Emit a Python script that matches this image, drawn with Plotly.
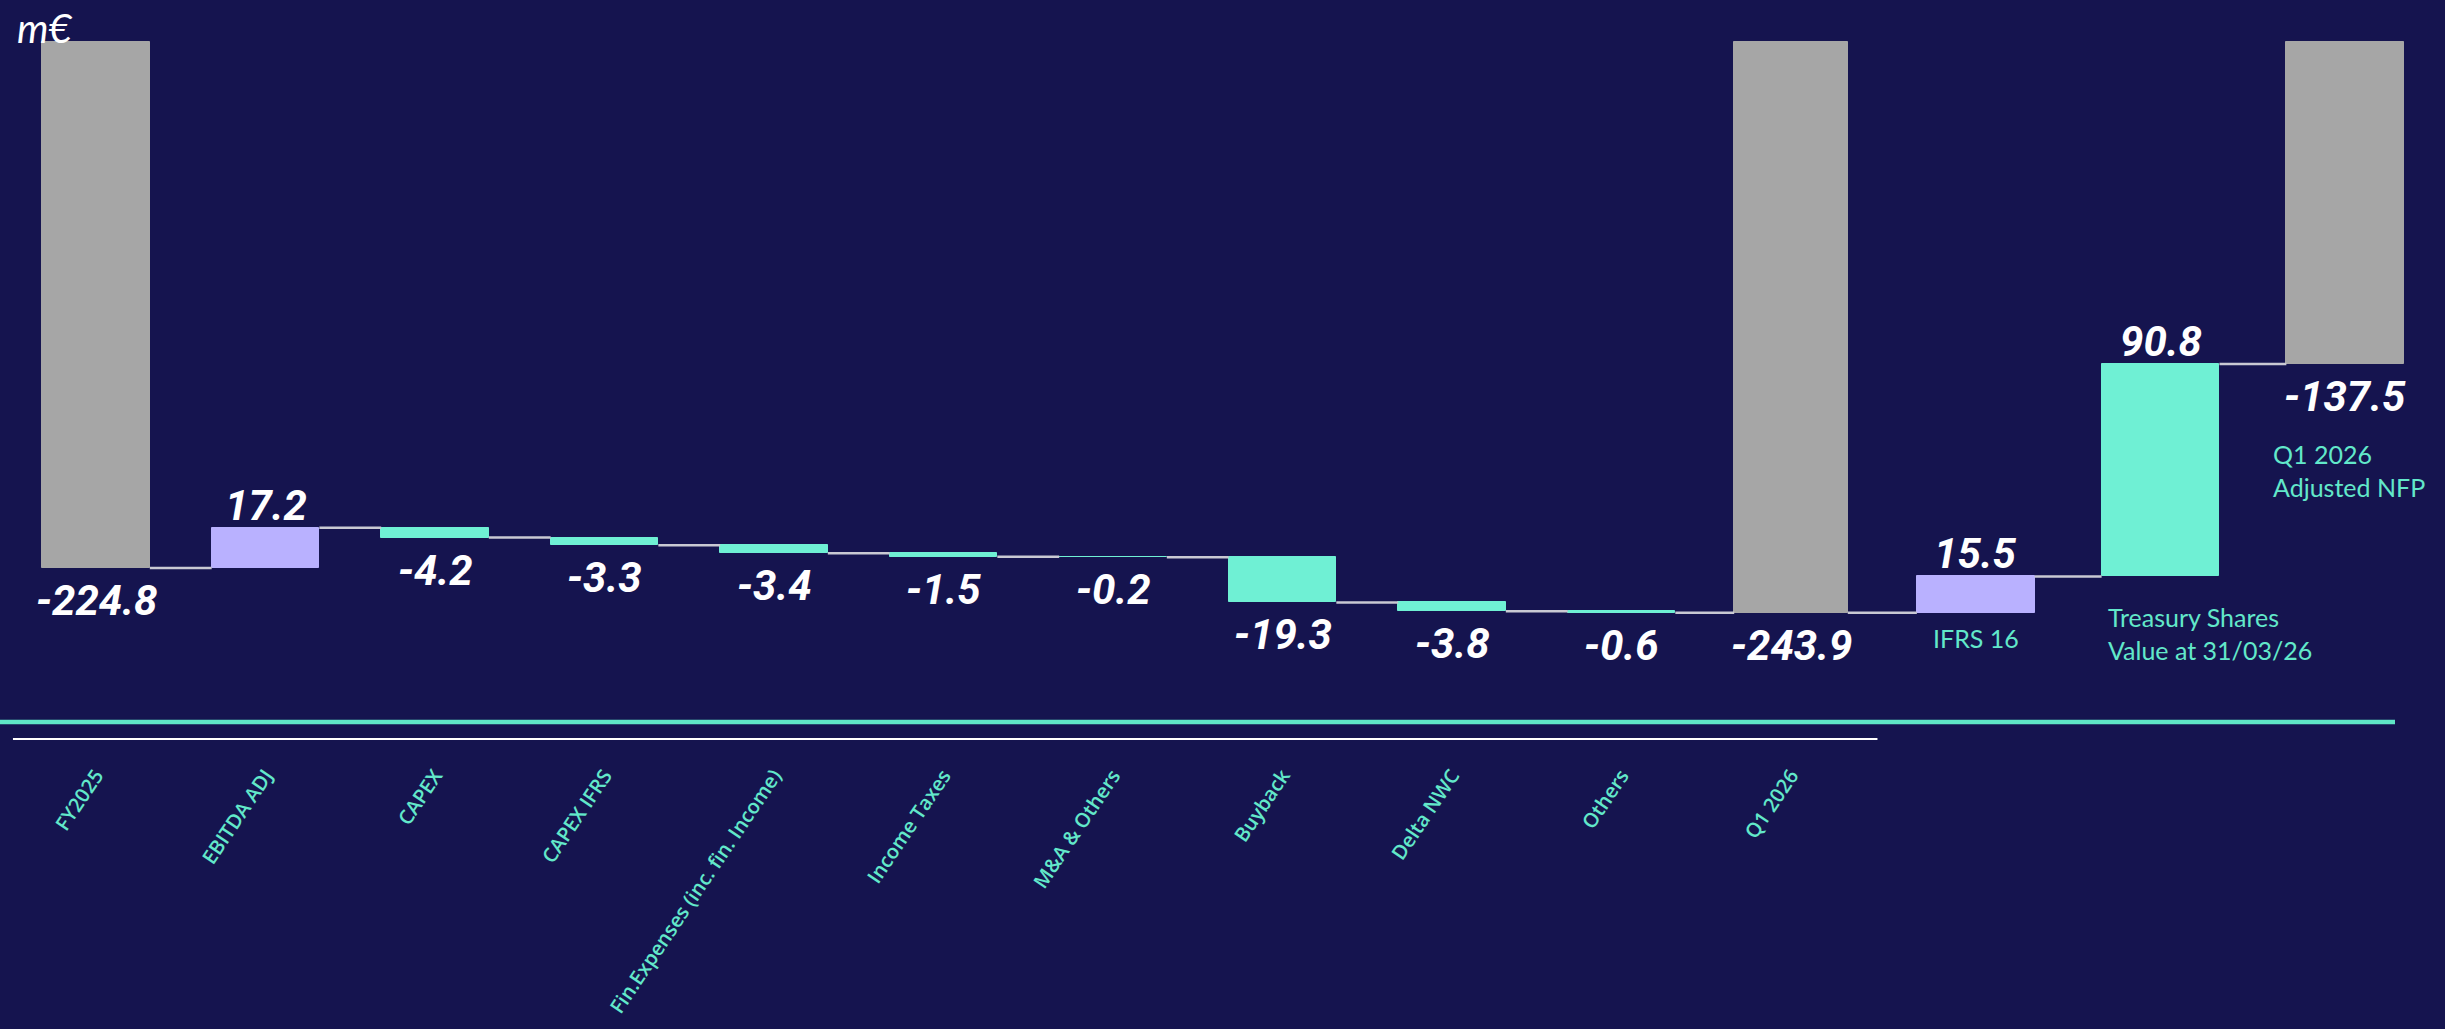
import plotly.graph_objects as go

# ---------------- data ----------------
categories = ["FY2025", "EBITDA ADJ", "CAPEX", "CAPEX IFRS",
              "Fin.Expenses (inc. fin. Income)", "Income Taxes", "M&A & Others",
              "Buyback", "Delta NWC", "Others", "Q1 2026",
              "IFRS 16", "Treasury Shares", "Q1 2026 Adjusted NFP"]
values = [-224.8, 17.2, -4.2, -3.3, -3.4, -1.5, -0.2, -19.3, -3.8, -0.6,
          -243.9, 15.5, 90.8, -137.5]
kinds = ["total", "delta", "delta", "delta", "delta", "delta", "delta",
         "delta", "delta", "delta", "total", "delta", "delta", "total"]
value_labels = ["-224.8", "17.2", "-4.2", "-3.3", "-3.4", "-1.5", "-0.2",
                "-19.3", "-3.8", "-0.6", "-243.9", "15.5", "90.8", "-137.5"]
n_axis_labels = 11  # only the first 11 categories carry an axis label

# ---------------- styles ----------------
BG = "#15144F"
GREY = "#A6A6A6"
LAV = "#B9B1FF"
TEAL = "#6FF0D4"
TXT_TEAL = "#62E8CA"
bar_colors = [GREY, LAV, TEAL, TEAL, TEAL, TEAL, TEAL, TEAL, TEAL, TEAL,
              GREY, LAV, TEAL, GREY]

W, H = 2445, 1029
PX_PER_UNIT = 2.34          # vertical scale (px per m€)
ZERO_PX = 568               # pixel row of the FY2025 closing level
PLOT_BOTTOM_PX = 739
STEP_PX = 169.5             # category spacing
FIRST_CENTER_PX = 96
OVERLAY_STEP = 1.09         # spacing of the three right-hand bars
BASE_W, OVER_W = 0.635, 0.695

n = len(categories)
pos = [float(i) for i in range(11)] + [10 + OVERLAY_STEP * j for j in range(1, n - 10)]
widths = [BASE_W] * 10 + [0.67] + [OVER_W] * (n - 11)

# ---------------- waterfall geometry via bases ----------------
bases, heights, lows, highs, end_levels = [], [], [], [], []
level = 0.0
for v, k in zip(values, kinds):
    if k == "total":
        b, h = level, -v
    else:
        b, h = level, v
        level += v
    bases.append(b)
    heights.append(h)
    lows.append(min(b, b + h))
    highs.append(max(b, b + h))
    end_levels.append(level)

fig = go.Figure()
fig.add_trace(go.Bar(
    x=pos, y=heights, base=bases, width=widths,
    marker=dict(color=bar_colors, line=dict(color=bar_colors, width=1)),
    hoverinfo="skip", showlegend=False,
))

# connectors
cx, cy = [], []
for i in range(n - 1):
    cx += [pos[i] + widths[i] / 2, pos[i + 1] - widths[i + 1] / 2, None]
    cy += [end_levels[i], end_levels[i], None]
fig.add_trace(go.Scatter(x=cx, y=cy, mode="lines",
                         line=dict(color="#C9C9D3", width=2.5),
                         hoverinfo="skip", showlegend=False))

# value labels
num_font = dict(family="Roboto, Liberation Sans Narrow, sans-serif",
                size=42, color="white", weight="bold", style="italic")
for i in range(n):
    if kinds[i] == "delta" and values[i] > 0:
        fig.add_annotation(x=pos[i], y=highs[i], text=value_labels[i], showarrow=False,
                           yanchor="bottom", xanchor="center", yshift=-4, font=num_font)
    else:
        fig.add_annotation(x=pos[i], y=lows[i], text=value_labels[i], showarrow=False,
                           yanchor="top", xanchor="center", yshift=-6, font=num_font)

# side notes
note_font = dict(family="Lato, Open Sans, sans-serif", size=25, color=TXT_TEAL)
fig.add_annotation(x=pos[11], y=-30, text="IFRS 16", showarrow=False,
                   xanchor="center", yanchor="middle", font=note_font)
fig.add_annotation(x=pos[12] - 0.32, y=-28, text="Treasury Shares<br>Value at 31/03/26",
                   showarrow=False, xanchor="left", yanchor="middle", align="left", font=note_font)
fig.add_annotation(x=pos[13] - 0.44, y=41.5, text="Q1 2026<br>Adjusted NFP",
                   showarrow=False, xanchor="left", yanchor="middle", align="left", font=note_font)

# unit
fig.add_annotation(xref="paper", yref="paper", x=15 / W, y=1 - 2 / PLOT_BOTTOM_PX,
                   text="m€", showarrow=False, xanchor="left", yanchor="top",
                   font=dict(family="Lato, Open Sans, sans-serif", size=40, color="white", style="italic"))

# decorative lines
fig.add_shape(type="line", xref="paper", yref="paper", x0=0, x1=2395 / W,
              y0=(PLOT_BOTTOM_PX - 722) / PLOT_BOTTOM_PX, y1=(PLOT_BOTTOM_PX - 722) / PLOT_BOTTOM_PX,
              line=dict(color="#5FE6C6", width=4.5))
fig.add_shape(type="line", xref="x", yref="paper", x0=pos[0] - 0.49, x1=pos[10] + 0.51,
              y0=0, y1=0, line=dict(color="white", width=2))

xmin = -FIRST_CENTER_PX / STEP_PX
xmax = (W - FIRST_CENTER_PX) / STEP_PX
ymax = ZERO_PX / PX_PER_UNIT
ymin = -(PLOT_BOTTOM_PX - ZERO_PX) / PX_PER_UNIT

fig.update_layout(
    width=W, height=H,
    margin=dict(l=0, r=0, t=0, b=H - PLOT_BOTTOM_PX),
    paper_bgcolor=BG, plot_bgcolor=BG,
    xaxis=dict(range=[xmin, xmax], tickmode="array",
               tickvals=pos[:n_axis_labels], ticktext=categories[:n_axis_labels],
               tickangle=-56,
               tickfont=dict(family="Open Sans, Noto Sans, sans-serif", size=20, color=TXT_TEAL, weight=600),
               showgrid=False, zeroline=False, showline=False, ticks="", ticklabelstandoff=20),
    yaxis=dict(range=[ymin, ymax], visible=False, showgrid=False, zeroline=False),
    bargap=0,
)

fig.write_html("out.html", config={"displayModeBar": False},
               post_script="document.body.style.margin='0';document.body.style.overflow='hidden';")
